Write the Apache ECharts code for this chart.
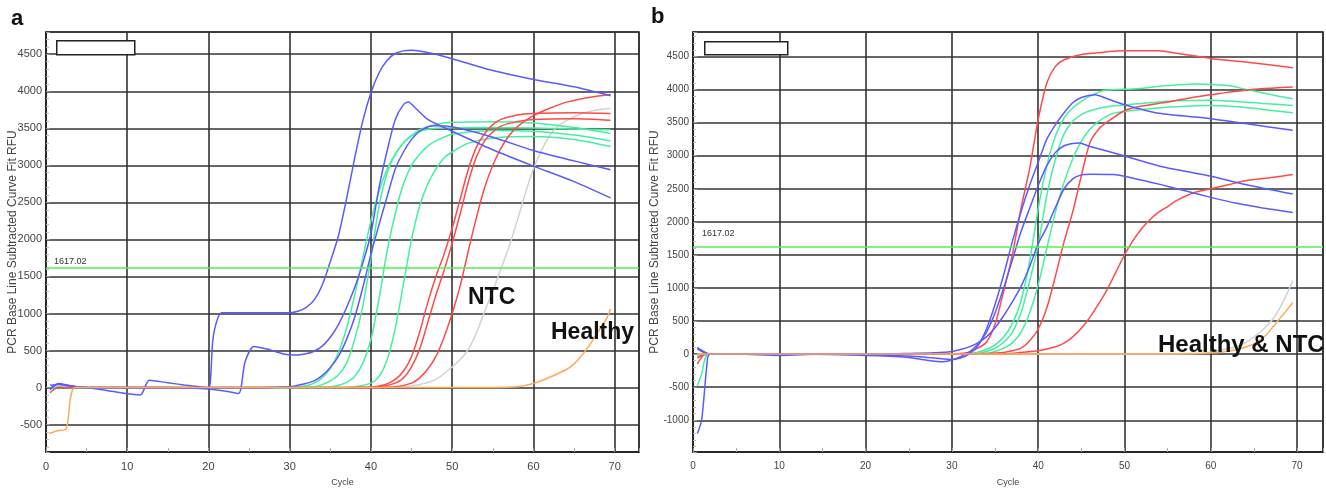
<!DOCTYPE html>
<html><head><meta charset="utf-8">
<script src="https://cdn.jsdelivr.net/npm/echarts@6/dist/echarts.min.js"></script>
<style>html,body{margin:0;padding:0;background:#fff}#c{width:1326px;height:492px}</style>
</head><body><div id="c"></div><script>
// ---------- data (cycle, RFU) ----------
const threshold = 1617.02;
// panel a
const aBlue1 = [[0.5,-30],[1.5,55],[3,25],[5,0],[10,0],[15,0],[19.8,-10],[20.2,50],[20.5,600],[20.9,850],[21.6,1010],[25,1010],[30,1010],[31,1030],[32,1080],[33,1180],[34,1380],[35,1700],[36,2050],[37,2550],[38,3100],[39,3600],[40,3980],[41,4250],[42,4420],[43,4510],[44,4545],[45,4555],[46,4545],[48,4500],[50,4440],[55,4280],[60,4160],[65,4060],[69.5,3940]];
const aBlue2 = [[0.5,30],[1.5,40],[3,20],[5,0],[10,0],[15,0],[19.5,-15],[22,-45],[23.7,-80],[24.5,346],[25.6,555],[27.2,520],[29.6,446],[31,440],[32,455],[33,490],[34,560],[35,680],[36,850],[37,1080],[38,1350],[39,1680],[40,2080],[41,2700],[42,3200],[43,3620],[44,3820],[44.6,3855],[45.5,3770],[47,3620],[50,3460],[55,3210],[60,2990],[65,2780],[69.5,2560]];
const aBlue3 = [[0.5,-10],[1.5,45],[3,20],[5,0],[8,-50],[11.6,-100],[12.7,100],[15,65],[17,35],[19,10],[20,0],[25,0],[30,10],[31,30],[32,55],[33,90],[34,160],[35,270],[36,420],[37,650],[38,950],[39,1350],[40,1800],[41,2200],[42,2580],[43,2950],[44,3180],[45,3350],[46,3460],[47,3520],[48,3535],[50,3520],[55,3380],[60,3200],[65,3060],[69.5,2940]];
const aGreen1 = [[0.5,-20],[1.5,10],[3,0],[10,0],[20,0],[28,0],[30,5],[32,25],[33,60],[34,130],[35,260],[36,470],[37,800],[38,1250],[39,1750],[40,2250],[41,2650],[42,2950],[43,3150],[44,3300],[45,3400],[46,3480],[48,3550],[50,3580],[55,3590],[60,3570],[65,3510],[69.5,3430]];
const aGreen2 = [[28,-5],[30,0],[33,10],[34,40],[35,90],[36,170],[37,330],[38,650],[39,1100],[40,1750],[41,2450],[42,2900],[43,3150],[44,3300],[45,3400],[46,3460],[48,3500],[55,3510],[60,3505],[65,3490],[69.5,3480]];
const aGreen3 = [[28,-10],[31,0],[35,10],[36,30],[37,70],[38,150],[39,330],[40,650],[41,1200],[42,1850],[43,2350],[44,2750],[45,3000],[46,3150],[47,3260],[48,3330],[50,3420],[55,3470],[60,3460],[65,3410],[69.5,3330]];
const aGreen4 = [[30,0],[36,0],[38,10],[40,60],[41,150],[42,380],[43,800],[44,1400],[45,2000],[46,2450],[47,2750],[48,2950],[49,3100],[50,3180],[52,3300],[55,3370],[60,3390],[65,3350],[69.5,3255]];
const aRed1 = [[0.5,-70],[1.5,0],[5,0],[10,0],[20,0],[30,0],[38,0],[40,5],[41,20],[42,50],[43,110],[44,220],[45,420],[46,750],[47,1150],[48,1500],[49,1800],[50,2150],[51,2550],[52,2950],[53,3250],[54,3430],[55,3550],[56,3620],[58,3680],[60,3700],[65,3710],[69.5,3700]];
const aRed2 = [[38,0],[41,10],[43,60],[44,130],[45,280],[46,520],[47,880],[48,1250],[49,1580],[50,1950],[51,2350],[52,2780],[53,3120],[54,3330],[55,3450],[56,3530],[58,3590],[60,3620],[65,3630],[69.5,3610]];
const aRed3 = [[38,0],[43,10],[45,60],[46,130],[47,250],[48,420],[49,680],[50,1000],[51,1380],[52,1850],[53,2300],[54,2700],[55,3000],[56,3230],[57,3400],[58,3520],[60,3670],[62,3770],[64,3850],[66,3900],[68,3935],[69.5,3955]];
const aGray = [[0.5,0],[10,0],[20,0],[30,0],[38,0],[44,10],[46,40],[48,110],[49.8,260],[51,380],[52,520],[53,740],[54,1030],[55,1300],[56,1600],[57,1900],[58,2250],[59,2620],[60,2950],[61,3200],[62,3400],[63,3530],[64,3600],[66,3700],[68,3750],[69.5,3770]];
const aOrange = [[0.4,-620],[1.5,-580],[2.5,-555],[3.6,0],[10,0],[20,0],[30,0],[40,0],[50,0],[55,0],[58,10],[60,55],[62,140],[64,240],[65,320],[66,440],[67,590],[68,760],[69,930],[69.5,1060]];
// panel b
const bBlue1 = [[0.5,100],[1.5,20],[2,0],[5,0],[10,-20],[15,0],[20,-10],[25,-30],[28,-60],[30,-80],[31,-60],[32,0],[33,120],[34,380],[35,750],[36,1200],[37,1700],[38,2150],[39,2550],[40,2900],[41,3250],[42,3470],[43,3650],[44,3800],[45,3880],[46.6,3920],[48,3860],[50,3770],[54,3640],[60,3560],[64,3485],[69.5,3385]];
const bBlue2 = [[0.5,-1200],[1,-1000],[1.7,-50],[2,0],[10,0],[20,-20],[25,-50],[27,-90],[29,-115],[30,-90],[31,-40],[32,30],[33,150],[34,330],[35,620],[36,1000],[37,1420],[38,1850],[39,2200],[40,2550],[41,2850],[42,3050],[43,3150],[44,3185],[44.7,3190],[46,3140],[49.5,3015],[54,2845],[60,2690],[64,2565],[69.5,2420]];
const bBlue3 = [[0.5,80],[1.5,10],[2,0],[10,0],[20,0],[25,10],[28,20],[30,40],[31,70],[32,110],[33,170],[34,260],[35,400],[36,580],[37,790],[38,1020],[39,1320],[40,1670],[41,1920],[42,2220],[43,2500],[44,2650],[45,2710],[46,2720],[48.7,2715],[51,2660],[54,2570],[57,2470],[60,2370],[63,2280],[66,2210],[69.5,2140]];
const bGreen1 = [[0.5,-480],[1,-300],[1.8,0],[10,0],[20,0],[30,0],[32,10],[33,30],[34,70],[35,140],[36,260],[37,460],[38,800],[39,1400],[40,2200],[41,2850],[42,3300],[43,3570],[44,3720],[45,3820],[46,3900],[47.6,3985],[51,4010],[55,4060],[58,4085],[62,4060],[64,4005],[66.5,3935],[69.5,3860]];
const bGreen2 = [[0.5,-20],[2,0],[10,0],[20,0],[30,0],[33,10],[34,40],[35,90],[36,180],[37,330],[38,620],[39,1100],[40,1650],[41,2400],[42,2950],[43,3330],[44,3520],[45,3620],[46,3680],[48,3740],[52,3790],[56,3830],[60,3840],[63,3820],[66,3790],[69.5,3760]];
const bGreen3 = [[0.5,-40],[2,0],[10,0],[20,0],[30,0],[34,10],[35,40],[36,90],[37,170],[38,330],[39,620],[40,1050],[41,1600],[42,2150],[43,2600],[44,2950],[45,3220],[46,3400],[47,3520],[48.7,3640],[52,3700],[56,3740],[60,3760],[63,3740],[66,3700],[69.5,3650]];
const bRed1 = [[0.5,-60],[1.5,0],[10,0],[20,0],[30,0],[31,10],[32,30],[33,90],[34,180],[35,450],[36,950],[37,1500],[38,2200],[39,2800],[40,3550],[41,4100],[42,4350],[43,4450],[45,4530],[48,4570],[50,4585],[54,4585],[56,4550],[58,4510],[60,4470],[64,4415],[67,4370],[69.5,4330]];
const bRed2 = [[0.5,-150],[1.5,0],[10,0],[20,0],[30,0],[34,10],[36,25],[37,50],[38,90],[39,200],[40,380],[41,700],[42,1180],[43,1700],[44,2150],[45,2700],[46,3200],[47,3400],[48,3510],[50,3680],[52,3750],[55,3810],[58,3885],[61,3940],[64,3990],[67,4020],[69.5,4040]];
const bRed3 = [[30,0],[36,0],[38,25],[40,50],[42,110],[43,165],[44,260],[45,390],[46,560],[47,760],[48,980],[49,1240],[50,1500],[51,1720],[52,1900],[53,2040],[54,2150],[55,2230],[56,2320],[58,2440],[60,2500],[62,2560],[64,2620],[67,2670],[69.5,2715]];
const bGray = [[0.5,0],[10,0],[20,0],[30,0],[40,0],[50,0],[58,10],[60,30],[62,80],[63.4,130],[64.5,210],[65.7,330],[66.5,430],[67.3,550],[68,700],[68.7,880],[69.5,1110]];
const bOrange = [[0.5,0],[10,0],[20,0],[30,0],[40,0],[50,0],[58,5],[60,15],[62,45],[63.4,80],[64.5,130],[65.4,180],[66.5,300],[67.3,430],[68,540],[68.7,650],[69.5,780]];

const BLUE='#5a5aff', GREEN='#44f0a0', RED='#ff4a4a', GRAY='#d2d2d2', ORANGE='#ffaa5a';

function line(data, color, g){
  return {type:'line', xAxisIndex:g, yAxisIndex:g, data:data, color:color, showSymbol:false, symbol:'none',
    smooth:0.25, lineStyle:{color:color, width:1.5}, silent:true};
}
function thresholdSeries(g, dist){
  return {type:'line', xAxisIndex:g, yAxisIndex:g, data:[], silent:true,
    markLine:{symbol:['none','none'], silent:true, animation:false,
      lineStyle:{color:'#55ee55', width:1.6, type:'solid'},
      label:{show:true, position:'insideStartTop', formatter:String(threshold), color:'#333', fontSize:9, fontFamily:'Liberation Sans', distance:dist},
      data:[{yAxis:threshold}]}};
}
function xAxis(g, fs){
  return {gridIndex:g, type:'value', min:0, max:73, splitNumber:8,
    name:'Cycle', nameLocation:'middle', nameGap:26, nameMoveOverlap:false,
    nameTextStyle:{fontSize:9, color:'#444', fontFamily:'Liberation Sans'},
    axisLine:{show:true, onZero:false, lineStyle:{color:'#222', width:1.5}},
    axisTick:{show:true, inside:true, length:4, lineStyle:{color:'#999'}},
    minorTick:{show:true, splitNumber:2, length:4, lineStyle:{color:'#aaa'}},
    splitLine:{show:true, lineStyle:{color:'#333', width:1.6}},
    axisLabel:{showMinLabel:true, showMaxLabel:false, fontSize:fs, color:'#444', margin:9, fontFamily:'Liberation Sans',
      formatter:function(v){return String(v);}}};
}
function yAxis(g, mn, mx, gap, fs){
  return {gridIndex:g, type:'value', min:mn, max:mx, splitNumber:11,
    name:'PCR Base Line Subtracted Curve Fit RFU', nameLocation:'middle', nameGap:gap, nameMoveOverlap:false,
    nameTextStyle:{fontSize:12, color:'#444', fontFamily:'Liberation Sans'},
    axisLine:{show:true, onZero:false, lineStyle:{color:'#222', width:1.5}},
    axisTick:{show:true, inside:true, length:4, lineStyle:{color:'#999'}},
    minorTick:{show:true, splitNumber:5, length:3, lineStyle:{color:'#bbb'}},
    splitLine:{show:true, lineStyle:{color:'#333', width:1.6}},
    axisLabel:{showMinLabel:false, showMaxLabel:false, fontSize:fs, color:'#444', margin:4, fontFamily:'Liberation Sans',
      formatter:function(v){return String(v);}}};
}

const chart = echarts.init(document.getElementById('c'), null, {renderer:'canvas'});
chart.setOption({
  animation:false,
  backgroundColor:'#fff',
  grid:[
    {left:46, right:687, top:32, bottom:34, show:true, borderColor:'#222', borderWidth:1.5, backgroundColor:'#fff'},
    {left:693, right:3, top:32, bottom:34, show:true, borderColor:'#222', borderWidth:1.5, backgroundColor:'#fff'}
  ],
  xAxis:[xAxis(0,11), xAxis(1,10)],
  yAxis:[yAxis(0,-870,4800,27,11), yAxis(1,-1480,4870,32,10)],
  series:[
    thresholdSeries(0,[8,2]),
    line(aGray,GRAY,0),
    line(aGreen1,GREEN,0), line(aGreen2,GREEN,0), line(aGreen3,GREEN,0), line(aGreen4,GREEN,0),
    line(aRed1,RED,0), line(aRed2,RED,0), line(aRed3,RED,0),
    line(aBlue1,BLUE,0), line(aBlue2,BLUE,0), line(aBlue3,BLUE,0),
    line(aOrange,ORANGE,0),
    thresholdSeries(1,[9,9]),
    line(bGray,GRAY,1),
    line(bGreen1,GREEN,1), line(bGreen2,GREEN,1), line(bGreen3,GREEN,1),
    line(bRed1,RED,1), line(bRed2,RED,1), line(bRed3,RED,1),
    line(bBlue1,BLUE,1), line(bBlue2,BLUE,1), line(bBlue3,BLUE,1),
    line(bOrange,ORANGE,1)
  ],
  graphic:[
    {type:'rect', left:56, top:40, shape:{width:78, height:14}, style:{fill:'#fff', stroke:'#222', lineWidth:1.5}, z:100},
    {type:'rect', left:704, top:41, shape:{width:83, height:13}, style:{fill:'#fff', stroke:'#222', lineWidth:1.5}, z:100},
    {type:'text', left:11, top:8, style:{text:'a', font:'bold 22px "Liberation Sans"', fill:'#111'}, z:100},
    {type:'text', left:651, top:6, style:{text:'b', font:'bold 22px "Liberation Sans"', fill:'#111'}, z:100},
    {type:'text', left:468, top:286, style:{text:'NTC', font:'bold 23px "Liberation Sans"', fill:'#111'}, z:100},
    {type:'text', left:551, top:321, style:{text:'Healthy', font:'bold 23px "Liberation Sans"', fill:'#111'}, z:100},
    {type:'text', left:1158, top:333, style:{text:'Healthy & NTC', font:'bold 24px "Liberation Sans"', fill:'#111'}, z:100}
  ]
});
</script></body></html>
